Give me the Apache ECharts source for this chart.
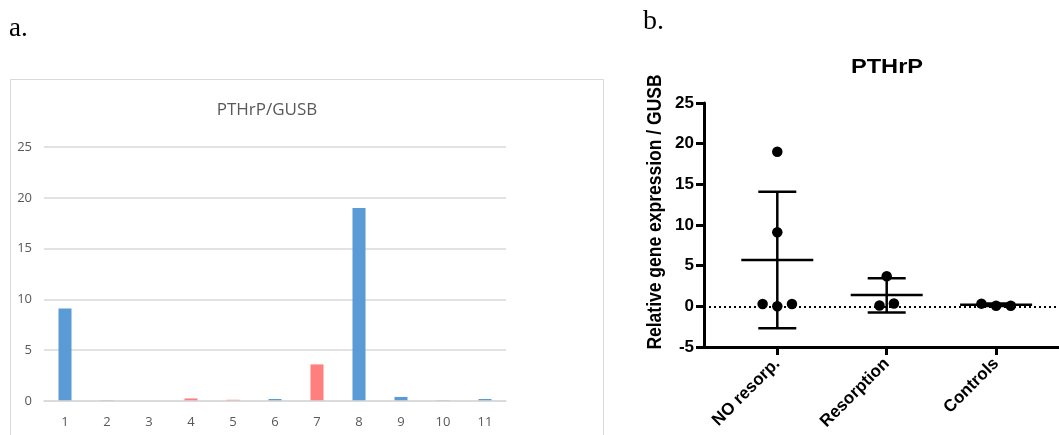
<!DOCTYPE html>
<html>
<head>
<meta charset="utf-8">
<script src="https://cdn.jsdelivr.net/npm/echarts@6/dist/echarts.min.js"></script>
<style>
html,body{margin:0;padding:0;background:#fff;}
#c{width:1059px;height:435px;}
</style>
</head>
<body>
<div id="c"></div>
<script>
// ---- Panel a data ----
const barCategories = ['1','2','3','4','5','6','7','8','9','10','11'];
const barValues = [9.1, 0.08, 0.05, 0.25, 0.12, 0.2, 3.6, 19.0, 0.4, 0.08, 0.2];
const barGroups = ['blue','gray','pale','red','red','blue','red','blue','blue','gray','blue'];
const barYTicks = [0, 5, 10, 15, 20, 25];

// ---- Panel b data ----
const groupNames = ['NO resorp.', 'Resorption', 'Controls'];
const groupPositions = [1, 2, 3];
const noResorpPoints = [[1, 19.0], [1, 9.1], [0.866, 0.28], [1, 0.0], [1.134, 0.28]];
const resorptionPoints = [[2, 3.7], [1.934, 0.1], [2.066, 0.35]];
const controlPoints = [[2.866, 0.33], [3, 0.08], [3.134, 0.08]];
const groupMeans = [5.7, 1.4, 0.2];
const groupSdLow = [-2.7, -0.75, 0.05];
const groupSdHigh = [14.1, 3.45, 0.35];
const scatterYTicks = [-5, 0, 5, 10, 15, 20, 25];

const colorMap = {blue:'#5B9BD5', gray:'#A5A5A5', pale:'#C7D9EE', red:'#FF7F7F'};

const chart = echarts.init(document.getElementById('c'), null, {renderer:'canvas'});

const statsData = groupPositions.map((p, i) => [p, groupMeans[i], groupSdLow[i], groupSdHigh[i]]);

const option = {
  animation: false,
  backgroundColor: '#ffffff',
  grid: [
    {left: 44, right: 553, top: 147, bottom: 34},
    {left: 704, right: 0, top: 103, bottom: 88}
  ],
  xAxis: [
    {
      gridIndex: 0, type: 'category', data: barCategories,
      axisLine: {lineStyle: {color: '#D9D9D9', width: 1.5}},
      axisTick: {show: false},
      axisLabel: {color: '#595959', fontSize: 13, fontFamily: 'Open Sans', margin: 15},
      z: 3
    },
    {
      gridIndex: 1, type: 'value', min: 0.33, max: 3.575,
      axisLine: {show: true, onZero: false, lineStyle: {color: '#000', width: 3}},
      axisTick: {show: true, customValues: groupPositions, length: 8, lineStyle: {color: '#000', width: 3}},
      axisLabel: {
        customValues: groupPositions,
        formatter: v => groupNames[groupPositions.indexOf(Math.round(v))] || '',
        rotate: 45, color: '#000', fontWeight: 'bold', fontSize: 17,
        fontFamily: 'Liberation Sans', margin: 14
      },
      splitLine: {show: false}
    }
  ],
  yAxis: [
    {
      gridIndex: 0, type: 'value', min: 0, max: 25, interval: 5,
      axisLine: {show: false}, axisTick: {show: false},
      splitLine: {lineStyle: {color: '#D9D9D9', width: 1.5}},
      axisLabel: {color: '#595959', fontSize: 13, fontFamily: 'Open Sans', margin: 12,
        customValues: barYTicks}
    },
    {
      gridIndex: 1, type: 'value', min: -5, max: 25, interval: 5,
      axisLine: {show: true, lineStyle: {color: '#000', width: 3}},
      axisTick: {show: true, length: 8, lineStyle: {color: '#000', width: 3}},
      splitLine: {show: false},
      axisLabel: {color: '#000', fontWeight: 'bold', fontSize: 17, fontFamily: 'Liberation Sans', margin: 10,
        customValues: scatterYTicks}
    }
  ],
  series: [
    {
      type: 'bar', xAxisIndex: 0, yAxisIndex: 0, barWidth: 13,
      data: barValues.map((v, i) => ({value: v, itemStyle: {color: colorMap[barGroups[i]]}}))
    },
    {
      type: 'custom', xAxisIndex: 1, yAxisIndex: 1, data: statsData, z: 3,
      renderItem: function (params, api) {
        const c = api.coord([api.value(0), api.value(1)]);
        const lo = api.coord([api.value(0), api.value(2)]);
        const hi = api.coord([api.value(0), api.value(3)]);
        const st = {stroke: '#000', lineWidth: 2.5};
        return {
          type: 'group',
          children: [
            {type: 'line', shape: {x1: c[0] - 36, y1: c[1], x2: c[0] + 36, y2: c[1]}, style: st},
            {type: 'line', shape: {x1: c[0], y1: lo[1], x2: c[0], y2: hi[1]}, style: st},
            {type: 'line', shape: {x1: c[0] - 19, y1: lo[1], x2: c[0] + 19, y2: lo[1]}, style: st},
            {type: 'line', shape: {x1: c[0] - 19, y1: hi[1], x2: c[0] + 19, y2: hi[1]}, style: st}
          ]
        };
      }
    },
    {
      type: 'scatter', xAxisIndex: 1, yAxisIndex: 1, symbolSize: 10.5, z: 4,
      itemStyle: {color: '#000', opacity: 1},
      data: noResorpPoints.concat(resorptionPoints, controlPoints),
      markLine: {
        silent: true, symbol: ['none', 'none'], label: {show: false},
        lineStyle: {color: '#000', type: [2, 3], width: 2},
        data: [{yAxis: 0}]
      }
    }
  ],
  graphic: [
    {type: 'rect', shape: {x: 10.5, y: 79.5, width: 593, height: 400},
      style: {fill: 'none', stroke: '#D9D9D9', lineWidth: 1}, z: -1},
    {type: 'text', x: 9, y: 29, style: {text: 'a.', font: '27px "Liberation Serif"', fill: '#000', textVerticalAlign: 'middle'}},
    {type: 'text', x: 643, y: 22, style: {text: 'b.', font: '28px "Liberation Serif"', fill: '#000', textVerticalAlign: 'middle'}},
    {type: 'text', x: 267, y: 110, style: {text: 'PTHrP/GUSB', font: '17px "Open Sans"', fill: '#595959', textAlign: 'center', textVerticalAlign: 'middle'}},
    {type: 'text', x: 887, y: 67, scaleX: 1.18, style: {text: 'PTHrP', font: 'bold 20px "Liberation Sans"', fill: '#000', textAlign: 'center', textVerticalAlign: 'middle'}},
    {type: 'text', x: 655, y: 212, rotation: Math.PI / 2, scaleY: 1.15,
      style: {text: 'Relative gene expression / GUSB', font: 'bold 17.5px "Liberation Sans"', fill: '#000', textAlign: 'center', textVerticalAlign: 'middle'}}
  ]
};
chart.setOption(option);
</script>
</body>
</html>
